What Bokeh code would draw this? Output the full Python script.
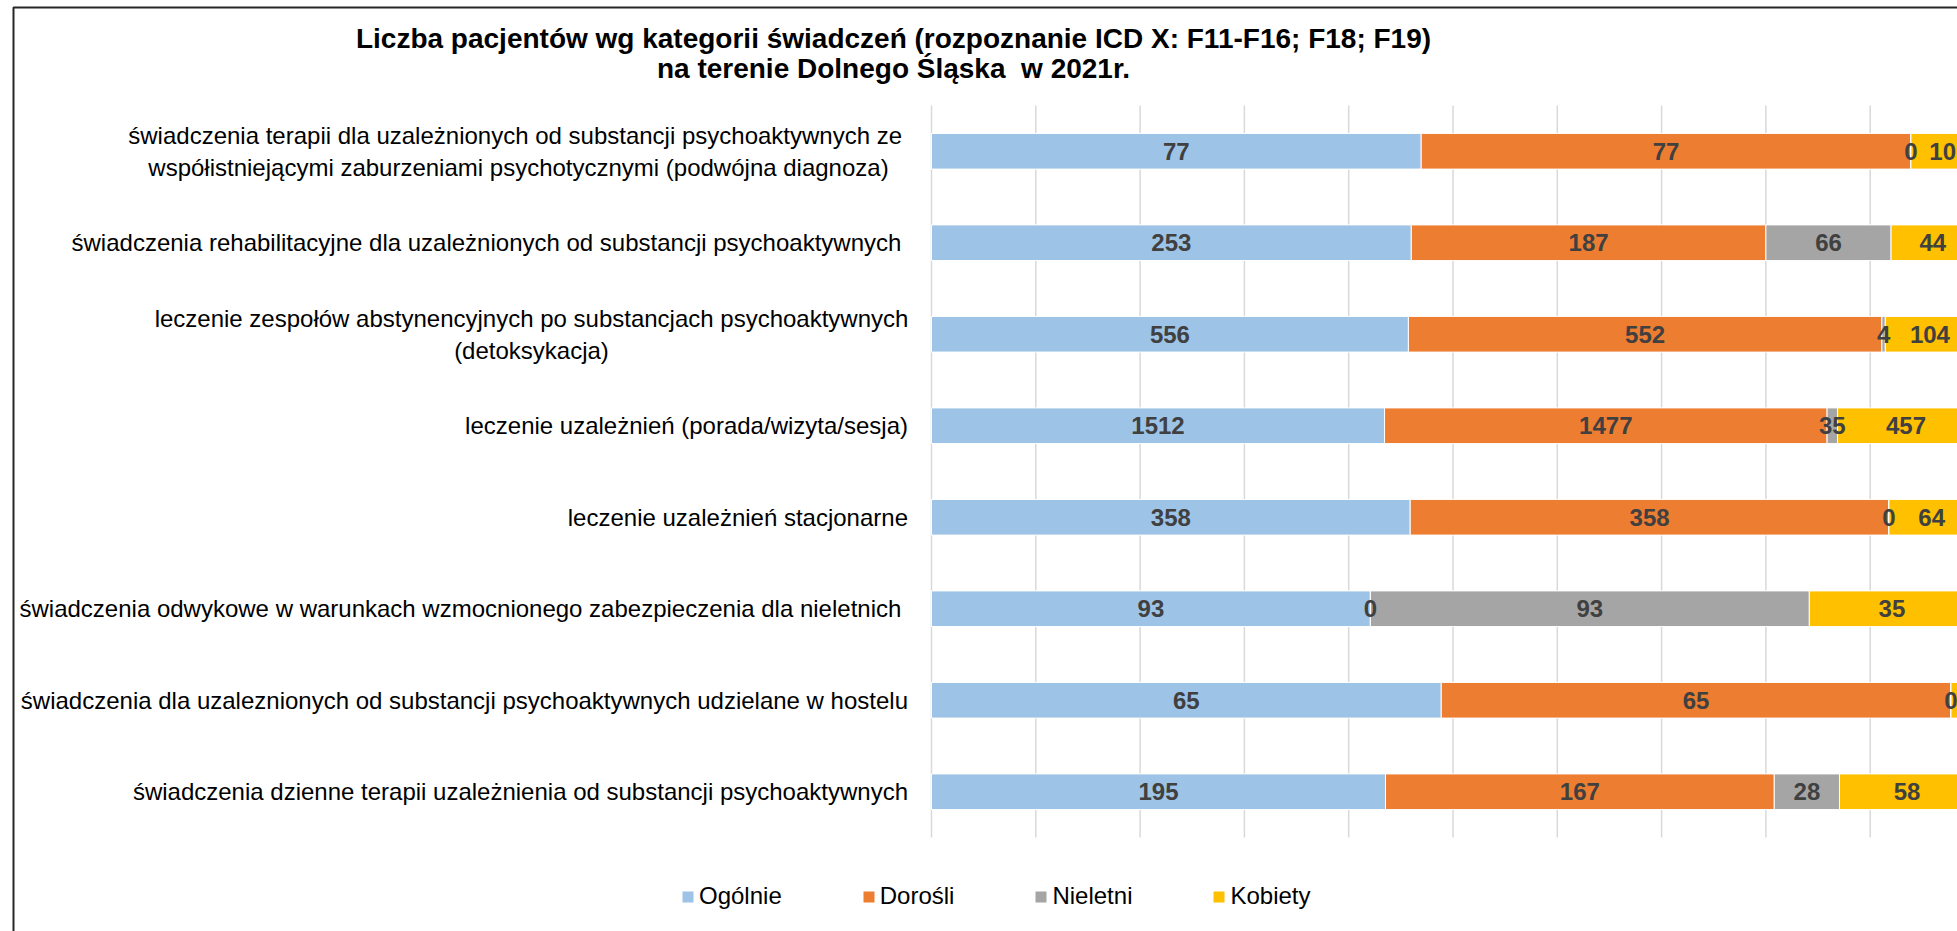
from bokeh.plotting import figure
from bokeh.models import ColumnDataSource, Range1d, Legend, LegendItem, Label, BoxAnnotation
from bokeh.embed import file_html
from bokeh.resources import INLINE
from bokeh.core.properties import value

# ---------------- data ----------------
categories = [
    "świadczenia terapii dla uzależnionych od substancji psychoaktywnych ze\u00a0\nwspółistniejącymi zaburzeniami psychotycznymi (podwójna diagnoza)",
    "świadczenia rehabilitacyjne dla uzależnionych od substancji psychoaktywnych\u00a0",
    "leczenie zespołów abstynencyjnych po substancjach psychoaktywnych\n(detoksykacja)",
    "leczenie uzależnień (porada/wizyta/sesja)",
    "leczenie uzależnień stacjonarne",
    "świadczenia odwykowe w warunkach wzmocnionego zabezpieczenia dla nieletnich\u00a0",
    "świadczenia dla uzaleznionych od substancji psychoaktywnych udzielane w hostelu",
    "świadczenia dzienne terapii uzależnienia od substancji psychoaktywnych",
]
ogolnie = [77, 253, 556, 1512, 358, 93, 65, 195]
dorosli = [77, 187, 552, 1477, 358, 0, 65, 167]
nieletni = [0, 66, 4, 35, 0, 93, 0, 28]
kobiety = [10, 44, 104, 457, 64, 35, 3, 58]
series_names = ["Ogólnie", "Dorośli", "Nieletni", "Kobiety"]
colors = ["#9DC3E6", "#ED7D31", "#A5A5A5", "#FFC000"]
grid_ticks = [0.0, 0.1, 0.2, 0.3, 0.4, 0.5, 0.6, 0.7, 0.8, 0.9, 1.0]

title_line1 = "Liczba pacjentów wg kategorii świadczeń (rozpoznanie ICD X: F11-F16; F18; F19)"
title_line2 = "na terenie Dolnego Śląska\u00a0 w 2021r."

# ---------------- layout constants (pixels) ----------------
FONT = "Liberation Sans"
W, H = 1957, 931
ZERO_X = 931.0        # pixel of 0 %
PX_100 = 1043.0       # pixels for 100 %
ROW0_Y = 150.75       # pixel centre of first row
ROW_STEP = 91.5       # pixels between rows
n = len(categories)
# label x offsets (px, relative to the 0 % line); multi-line labels are centred
label_offsets = [-413, -23.5, -400, -23.5, -23.5, -23.5, -23.5, -23.5]

x_start = -ZERO_X / PX_100
x_end = (W - ZERO_X) / PX_100
top_val = (n - 1) + ROW0_Y / ROW_STEP
bot_val = (n - 1) - (H - ROW0_Y) / ROW_STEP

p = figure(
    width=W, height=H,
    x_range=Range1d(x_start, x_end), y_range=Range1d(bot_val, top_val),
    x_axis_location=None, y_axis_location=None,
    min_border=0, min_border_left=0, min_border_right=0, min_border_top=0, min_border_bottom=0,
    output_backend="svg", toolbar_location=None,
)
p.outline_line_color = None
p.xgrid.visible = False
p.ygrid.visible = False
p.background_fill_color = "white"
p.border_fill_color = "white"

ypos = [n - 1 - i for i in range(n)]

# vertical gridlines (drawn from the tick list)
p.segment(x0=grid_ticks, x1=grid_ticks, y0=[-0.5] * len(grid_ticks), y1=[n - 0.5] * len(grid_ticks),
          line_color="#D9D9D9", line_width=1.5)

# stacked 100 % bars
series = [ogolnie, dorosli, nieletni, kobiety]
totals = [sum(vals) for vals in zip(*series)]
left = [0.0] * n
renderers = []
lab_x, lab_y, lab_t = [], [], []
for name, vals, col in zip(series_names, series, colors):
    frac = [v / t for v, t in zip(vals, totals)]
    right = [l + f for l, f in zip(left, frac)]
    src = ColumnDataSource(dict(y=ypos, left=left, right=right))
    r = p.hbar(y="y", left="left", right="right", height=0.39, source=src,
               fill_color=col, line_color="white", line_width=1)
    renderers.append(r)
    for yy, l, rr, v in zip(ypos, left, right, vals):
        lab_x.append((l + rr) / 2)
        lab_y.append(yy)
        lab_t.append(str(v))
    left = right

# data labels
p.text(x=lab_x, y=lab_y, text=lab_t, text_align="center", text_baseline="middle",
       text_font=value(FONT), text_font_style="bold", text_font_size="24px",
       text_color="#404040")

# category labels
for cat, yy, off in zip(categories, ypos, label_offsets):
    align = "center" if "\n" in cat else "right"
    p.text(x=[0.0], y=[yy], text=[cat], x_offset=off, text_align=align,
           text_baseline="middle", text_font=value(FONT), text_font_size="24px",
           text_color="black", text_line_height=1.2)

# titles
p.add_layout(Label(x=893, y=H - 37.7, x_units="screen", y_units="screen", text=title_line1,
                   text_align="center", text_baseline="alphabetic", text_font=FONT,
                   text_font_style="bold", text_font_size="28px", text_color="black"))
p.add_layout(Label(x=893, y=H - 67.5, x_units="screen", y_units="screen", text=title_line2,
                   text_align="center", text_baseline="alphabetic", text_font=FONT,
                   text_font_style="bold", text_font_size="28px", text_color="black"))

# chart border (top and left edges visible)
p.add_layout(BoxAnnotation(left=13, right=W + 200, top=H - 7, bottom=-200,
                           left_units="screen", right_units="screen",
                           top_units="screen", bottom_units="screen",
                           fill_alpha=0, line_color="#262626", line_alpha=1.0, line_width=2))

# legend
legend = Legend(items=[LegendItem(label=nm, renderers=[r]) for nm, r in zip(series_names, renderers)],
                orientation="horizontal", location=(680, 21),
                glyph_width=15, glyph_height=15, label_standoff=4, spacing=79,
                padding=0, margin=0, border_line_alpha=0, background_fill_alpha=0,
                label_text_font=FONT, label_text_font_size="24px", label_text_color="black")
p.add_layout(legend, "center")

open("out.html", "w").write(file_html(p, INLINE))
